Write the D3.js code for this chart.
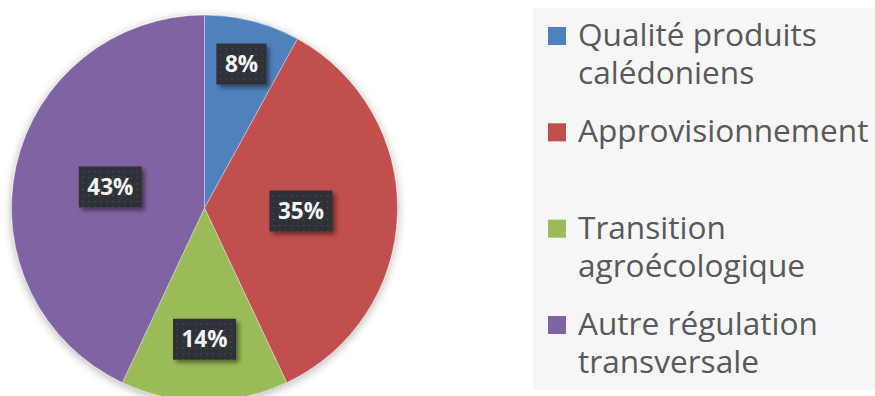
<!DOCTYPE html>
<html>
<head>
<meta charset="utf-8">
<script src="https://cdn.jsdelivr.net/npm/d3@7"></script>
<style>
  html, body { margin: 0; padding: 0; background: #ffffff; }
  svg { display: block; }
</style>
</head>
<body>
<svg id="chart" width="875" height="396"></svg>
<script>
// Répartition des mesures par thème
const categories = [
  "Qualité produits calédoniens",
  "Approvisionnement",
  "Transition agroécologique",
  "Autre régulation transversale"
];
const legendLines = [
  ["Qualité produits", "calédoniens"],
  ["Approvisionnement"],
  ["Transition", "agroécologique"],
  ["Autre régulation", "transversale"]
];
const shares = [8, 35, 14, 43];
const sliceColors = ["#4f81bd", "#c0504d", "#9bbb59", "#8064a2"];
// distance of each value label from the centre, as a fraction of the radius
const labelRadius = [0.77, 0.50, 0.68, 0.50];

const svg = d3.select("#chart");
const cx = 204.5, cy = 208, R = 193;

const defs = svg.append("defs");

const pieShadow = defs.append("filter").attr("id", "pieShadow")
  .attr("x", "-20%").attr("y", "-20%").attr("width", "140%").attr("height", "140%");
pieShadow.append("feDropShadow")
  .attr("dx", 0).attr("dy", 2).attr("stdDeviation", 5)
  .attr("flood-color", "#000").attr("flood-opacity", 0.3);

const boxShadow = defs.append("filter").attr("id", "boxShadow")
  .attr("x", "-30%").attr("y", "-30%").attr("width", "160%").attr("height", "160%");
boxShadow.append("feDropShadow")
  .attr("dx", 3).attr("dy", 3).attr("stdDeviation", 2)
  .attr("flood-color", "#000").attr("flood-opacity", 0.45);

const dots = defs.append("pattern").attr("id", "dots")
  .attr("width", 6).attr("height", 6).attr("patternUnits", "userSpaceOnUse");
dots.append("rect").attr("width", 6).attr("height", 6).attr("fill", "#2f3337");
dots.append("rect").attr("x", 2).attr("y", 2).attr("width", 1.2).attr("height", 1.2).attr("fill", "#4b5055");

// Pie
const pie = d3.pie().sort(null).value(d => d);
const arcs = pie(shares);
const arc = d3.arc().innerRadius(0).outerRadius(R);

const g = svg.append("g").attr("transform", `translate(${cx},${cy})`);

g.append("g").attr("filter", "url(#pieShadow)")
  .selectAll("path").data(arcs).join("path")
  .attr("d", arc)
  .attr("fill", (d, i) => sliceColors[i])
  .attr("stroke", "rgba(255,255,255,0.45)")
  .attr("stroke-width", 0.8);

// Value labels
const fmt = d => d3.format(".0%")(d / 100);
const labels = g.selectAll("g.label").data(arcs).join("g")
  .attr("class", "label")
  .attr("transform", (d, i) => {
    const r = R * labelRadius[i];
    const c = d3.arc().innerRadius(r).outerRadius(r).centroid(d);
    return `translate(${c[0]},${c[1]})`;
  });

labels.each(function(d) {
  const sel = d3.select(this);
  const t = sel.append("text")
    .attr("text-anchor", "middle")
    .attr("dy", "0.36em")
    .attr("font-family", "'Open Sans', sans-serif")
    .attr("font-weight", 700)
    .attr("font-size", 22.5)
    .attr("fill", "#f4f4f4")
    .text(fmt(d.data));
  const w = t.node().getComputedTextLength() + 17;
  const h = 41;
  sel.insert("rect", "text")
    .attr("x", -w / 2).attr("y", -h / 2)
    .attr("width", w).attr("height", h)
    .attr("fill", "url(#dots)")
    .attr("filter", "url(#boxShadow)");
});

// Legend
const legend = svg.append("g");
legend.append("rect")
  .attr("x", 533).attr("y", 8).attr("width", 342).attr("height", 382)
  .attr("fill", "#f6f6f6");

const entryY = d3.scalePoint().domain(categories).range([46, 335]);
const entries = legend.selectAll("g.entry").data(categories).join("g")
  .attr("class", "entry")
  .attr("transform", d => `translate(0,${entryY(d)})`);

entries.append("rect")
  .attr("x", 548).attr("y", -19).attr("width", 18).attr("height", 18)
  .attr("fill", (d, i) => sliceColors[i]);

entries.append("text")
  .attr("x", 578)
  .attr("font-family", "'Open Sans', sans-serif")
  .attr("font-size", 31.6)
  .attr("fill", "#595959")
  .selectAll("tspan").data((d, i) => legendLines[i]).join("tspan")
  .attr("x", 578)
  .attr("dy", (d, j) => j === 0 ? 0 : 38)
  .text(d => d);
</script>
</body>
</html>
